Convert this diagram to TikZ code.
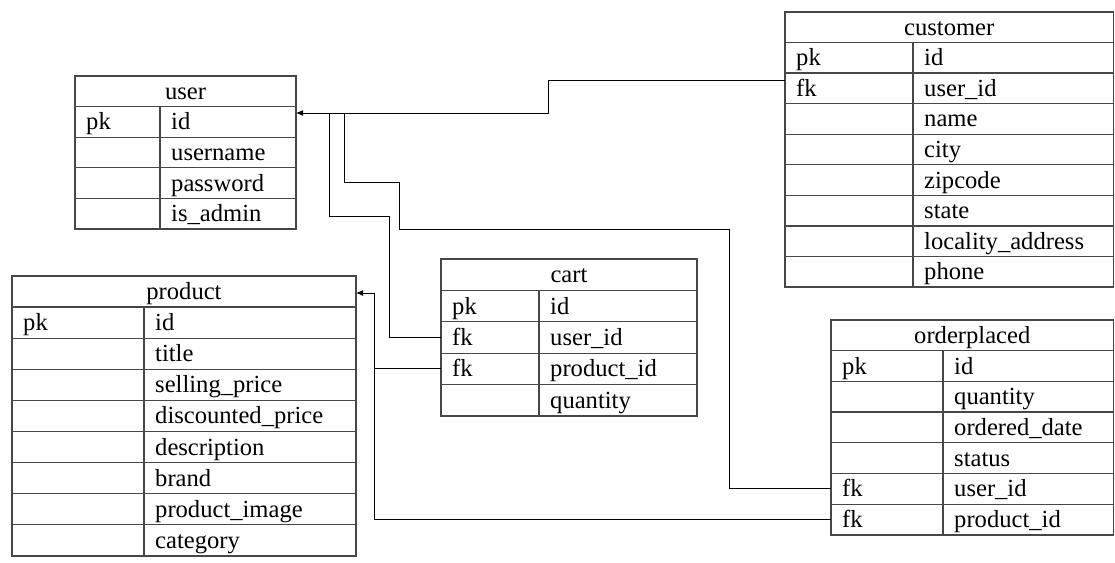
\documentclass[tikz,border=0pt]{standalone}
\usepackage{fontspec}
\setmainfont{Liberation Serif}
\usetikzlibrary{arrows.meta}
\tikzset{
  tabline/.style={draw=black!72, line width=1.3pt},
  conn/.style={draw=black, line width=1pt},
  tip/.style={-{Latex[length=7pt,width=6pt]}},
  celltext/.style={inner sep=0pt, anchor=base west, font=\fontsize{24.6}{28}\selectfont},
  headtext/.style={inner sep=0pt, anchor=base, font=\fontsize{24.6}{28}\selectfont}
}
% #1 name, #2 left, #3 right, #4 divider, #5 top, #6 row height, #7 header, #8 rows
\newcommand\ertable[8]{%
  \draw[tabline] (#2,#5) rectangle (#3,#5+#6);
  \node[headtext] (#1) at ({(#2+#3)/2},{#5+#6/2+8}) {#7};
  \foreach \k/\f [count=\i] in {#8} {
    \draw[tabline] (#2,{#5+\i*#6}) rectangle (#3,{#5+(\i+1)*#6});
    \draw[tabline] (#4,{#5+\i*#6}) -- (#4,{#5+(\i+1)*#6});
    \node[celltext] (#1-\i-k) at (#2+11,{#5+(\i+0.5)*#6+8}) {\k};
    \node[celltext] (#1-\i-f) at (#4+11,{#5+(\i+0.5)*#6+8}) {\f};
    \coordinate (#1-\i-w) at (#2,{#5+(\i+0.5)*#6});
    \coordinate (#1-\i-e) at (#3,{#5+(\i+0.5)*#6});
  }
}
\begin{document}
\begin{tikzpicture}[x=1pt,y=-1pt]
\useasboundingbox (0,0) rectangle (1115,562);

\ertable{user}{75}{296}{160}{76}{30.6}{user}{pk/id, {}/username, {}/password, {}/is\_admin}
\ertable{customer}{785}{1113.5}{913}{12}{30.56}{customer}{pk/id, fk/user\_id, {}/name, {}/city, {}/zipcode, {}/state, {}/locality\_address, {}/phone}
\ertable{product}{12}{356}{144}{276}{31.1}{product}{pk/id, {}/title, {}/selling\_price, {}/discounted\_price, {}/description, {}/brand, {}/product\_image, {}/category}
\ertable{cart}{441}{697}{539}{259}{31.4}{cart}{pk/id, fk/user\_id, fk/product\_id, {}/quantity}
\ertable{orderplaced}{831}{1113.5}{943}{320}{30.7}{orderplaced}{pk/id, {}/quantity, {}/ordered\_date, {}/status, fk/user\_id, fk/product\_id}

\coordinate (cust-fk) at (785,80);
\coordinate (user-in) at (296,113);
\coordinate (prod-in) at (356,293);

% customer -> user
\draw[conn,tip] (cust-fk) -| (548,113) -- (user-in);
% cart -> user
\draw[conn] (cart-2-w) -| (389,216) -| (329,113);
% orderplaced -> user
\draw[conn] (orderplaced-5-w) -| (729,229) -| (399,182) -| (344,113);
% orderplaced -> product
\draw[conn,tip] (orderplaced-6-w) -| (374,293) -- (prod-in);
% cart -> product
\draw[conn] (cart-3-w) -- ++(-67,0);
\end{tikzpicture}
\end{document}
